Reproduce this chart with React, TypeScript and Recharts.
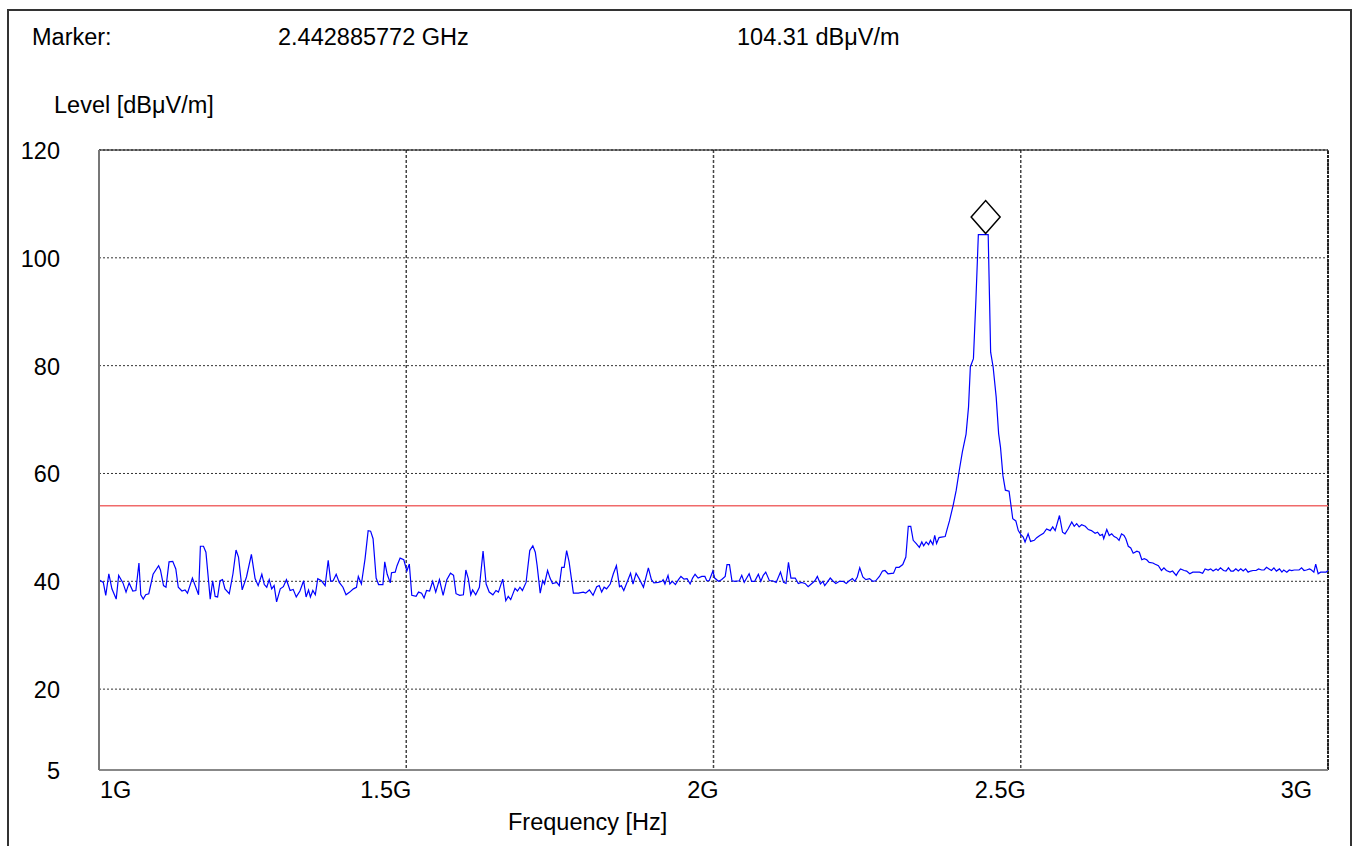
import React from "react";
import { LineChart, Line, XAxis, YAxis, CartesianGrid, ReferenceLine, ReferenceDot } from "recharts";

// sweep frequency points (MHz)
const freqMHz = [
    1000, 1007, 1011, 1016, 1021, 1028, 1032, 1039, 1044, 1049,
    1055, 1060, 1065, 1068, 1072, 1076, 1081, 1088, 1097, 1100,
    1105, 1109, 1114, 1120, 1125, 1129, 1135, 1140, 1144, 1152,
    1162, 1165, 1170, 1174, 1181, 1185, 1189, 1193, 1197, 1201,
    1205, 1212, 1218, 1223, 1227, 1233, 1240, 1248, 1254, 1259,
    1265, 1269, 1273, 1277, 1281, 1285, 1289, 1295, 1300, 1305,
    1311, 1316, 1321, 1327, 1333, 1337, 1341, 1344, 1348, 1352,
    1356, 1362, 1368, 1373, 1377, 1381, 1386, 1391, 1397, 1402,
    1408, 1414, 1419, 1422, 1427, 1433, 1438, 1442, 1446, 1451,
    1455, 1462, 1465, 1469, 1474, 1476, 1482, 1485, 1490, 1496,
    1501, 1505, 1509, 1516, 1520, 1525, 1529, 1533, 1538, 1543,
    1548, 1554, 1560, 1566, 1572, 1577, 1581, 1587, 1593, 1597,
    1601, 1605, 1608, 1613, 1619, 1625, 1630, 1635, 1641, 1646,
    1650, 1657, 1662, 1666, 1670, 1677, 1681, 1685, 1689, 1695,
    1701, 1706, 1710, 1713, 1718, 1722, 1725, 1730, 1734, 1738,
    1745, 1749, 1753, 1757, 1761, 1765, 1772, 1780, 1788, 1792,
    1798, 1804, 1810, 1814, 1818, 1822, 1826, 1832, 1837, 1842,
    1847, 1850, 1854, 1860, 1865, 1869, 1874, 1879, 1886, 1894,
    1899, 1903, 1910, 1916, 1918, 1921, 1926, 1929, 1933, 1938,
    1943, 1947, 1952, 1957, 1962, 1966, 1970, 1975, 1981, 1986,
    1989, 1993, 1999, 2002, 2008, 2013, 2019, 2022, 2026, 2030,
    2035, 2042, 2046, 2050, 2054, 2058, 2062, 2067, 2073, 2077,
    2081, 2085, 2091, 2096, 2102, 2109, 2114, 2118, 2122, 2126,
    2133, 2138, 2143, 2149, 2154, 2160, 2165, 2169, 2174, 2178,
    2181, 2185, 2190, 2194, 2199, 2205, 2211, 2216, 2221, 2226,
    2230, 2234, 2238, 2243, 2248, 2254, 2259, 2264, 2270, 2275,
    2279, 2284, 2293, 2297, 2302, 2308, 2313, 2317, 2321, 2325,
    2330, 2335, 2339, 2342, 2346, 2350, 2353, 2357, 2360, 2363,
    2367, 2371, 2377, 2380, 2384, 2390, 2395, 2400, 2405, 2411,
    2415, 2418, 2423, 2427, 2431, 2439, 2442.9, 2447, 2451, 2455,
    2460, 2464, 2467, 2471, 2475, 2481, 2487, 2492, 2496, 2500,
    2504, 2507, 2512, 2516, 2522, 2526, 2531, 2537, 2542, 2548,
    2552, 2556, 2563, 2568, 2572, 2577, 2583, 2587, 2591, 2595,
    2599, 2605, 2610, 2615, 2621, 2625, 2629, 2633, 2635, 2640,
    2644, 2648, 2652, 2656, 2660, 2664, 2668, 2671, 2675, 2679,
    2683, 2689, 2693, 2697, 2701, 2705, 2709, 2715, 2718, 2724,
    2729, 2733, 2737, 2743, 2747, 2753, 2756, 2760, 2766, 2770,
    2775, 2780, 2785, 2791, 2796, 2800, 2805, 2809, 2813, 2818,
    2821, 2825, 2830, 2834, 2838, 2842, 2846, 2850, 2854, 2858,
    2862, 2866, 2870, 2874, 2878, 2883, 2887, 2892, 2896, 2900,
    2904, 2908, 2912, 2916, 2921, 2925, 2928, 2933, 2937, 2941,
    2945, 2949, 2953, 2957, 2961, 2965, 2970, 2973, 2977, 2980,
    2984, 2988, 2992, 2997, 3000,
];

// measured level, dBuV/m
const levelDbuv = [
    40.3, 39.8, 37.4, 41.4, 38.6, 36.7, 41.1, 39.7, 38.0, 39.7,
    38.2, 38.3, 43.4, 37.5, 36.7, 37.5, 37.7, 41.3, 42.9, 42.1,
    39.2, 38.9, 43.6, 43.7, 42.3, 38.9, 38.2, 38.4, 37.8, 40.6,
    37.5, 46.5, 46.5, 45.4, 36.7, 40.1, 37.2, 37.1, 40.1, 40.3,
    38.6, 37.7, 41.4, 45.8, 44.5, 38.4, 40.8, 45.0, 40.5, 39.2,
    41.3, 39.4, 38.9, 40.3, 38.6, 39.2, 36.2, 38.6, 39.0, 40.3,
    38.3, 38.5, 37.1, 38.2, 40.1, 37.1, 38.4, 37.1, 38.3, 37.5,
    40.5, 40.1, 39.2, 43.9, 40.0, 40.1, 41.3, 39.8, 38.9, 37.5,
    38.0, 38.6, 38.9, 40.9, 39.5, 44.2, 49.4, 49.3, 47.9, 40.6,
    39.4, 39.4, 43.6, 41.3, 39.7, 41.6, 41.7, 42.9, 44.3, 44.0,
    41.9, 43.2, 37.4, 37.2, 38.0, 37.8, 36.9, 38.3, 38.2, 40.0,
    38.0, 40.3, 37.4, 40.3, 41.5, 41.1, 37.7, 37.4, 37.5, 42.1,
    40.5, 37.5, 38.4, 37.5, 38.9, 45.6, 39.5, 38.0, 37.5, 38.3,
    38.0, 40.4, 36.4, 37.2, 36.6, 38.7, 38.2, 38.9, 38.3, 39.8,
    45.7, 46.6, 45.4, 42.9, 37.8, 40.1, 39.5, 42.0, 40.6, 39.6,
    39.8, 39.2, 42.6, 42.6, 45.7, 43.6, 37.8, 37.8, 38.0, 37.8,
    38.4, 37.4, 39.0, 39.2, 38.0, 38.9, 38.6, 39.5, 41.4, 42.9,
    39.0, 39.2, 38.3, 40.0, 41.5, 39.5, 41.5, 40.5, 38.9, 42.5,
    40.3, 39.7, 39.8, 40.0, 40.3, 39.5, 41.1, 39.5, 40.0, 39.4,
    40.3, 40.9, 40.4, 40.5, 39.5, 40.6, 41.3, 40.6, 40.9, 40.9,
    40.1, 40.1, 41.9, 40.6, 40.0, 40.3, 40.9, 43.1, 43.1, 40.1,
    40.0, 40.1, 41.1, 39.8, 40.6, 41.4, 40.0, 40.0, 41.3, 40.0,
    41.1, 41.7, 40.1, 40.1, 39.8, 41.7, 39.8, 39.6, 43.5, 40.6,
    40.6, 39.6, 39.8, 39.6, 39.0, 39.6, 40.1, 40.9, 39.5, 40.0,
    39.2, 39.8, 40.6, 40.1, 39.6, 40.0, 40.0, 39.6, 40.1, 40.5,
    40.0, 40.8, 42.5, 40.8, 40.3, 40.5, 40.0, 40.1, 40.9, 41.9,
    42.0, 41.4, 41.5, 42.6, 42.6, 43.1, 44.5, 50.2, 50.2, 47.6,
    47.0, 46.3, 47.3, 46.6, 47.3, 46.8, 47.6, 46.8, 48.5, 47.0,
    48.1, 48.2, 48.3, 49.6, 51.2, 54.1, 56.9, 60.6, 64.0, 67.3,
    72.3, 79.8, 81.3, 92.1, 104.3, 104.3, 104.31, 104.3, 82.5, 79.8,
    74.2, 67.4, 64.9, 59.6, 56.9, 56.7, 51.6, 51.2, 49.4, 48.7,
    48.2, 47.3, 48.8, 47.4, 47.6, 48.1, 48.5, 48.9, 49.7, 49.4,
    50.1, 49.4, 52.2, 49.1, 48.8, 49.7, 51.0, 50.2, 50.7, 50.1,
    50.5, 50.2, 49.6, 49.4, 48.9, 49.1, 48.5, 48.7, 47.9, 49.6,
    48.5, 48.8, 48.3, 48.1, 47.6, 48.8, 48.5, 47.9, 46.5, 46.2,
    45.2, 45.6, 45.4, 44.0, 44.2, 44.0, 43.5, 43.4, 43.2, 42.9,
    42.0, 42.5, 42.0, 41.7, 41.9, 41.1, 41.7, 42.3, 42.0, 41.9,
    41.4, 41.7, 41.7, 41.7, 41.5, 42.3, 42.1, 42.3, 41.9, 42.3,
    42.0, 42.5, 42.0, 41.9, 42.5, 41.9, 41.9, 42.3, 41.9, 42.3,
    41.9, 42.3, 41.7, 41.9, 42.0, 42.0, 42.3, 42.1, 42.1, 42.6,
    42.3, 42.0, 42.5, 41.9, 42.3, 41.7, 42.1, 41.7, 42.1, 42.0,
    42.1, 42.1, 42.1, 42.5, 42.0, 42.1, 42.3, 42.1, 41.7, 43.2,
    41.4, 41.7, 41.7, 41.7, 42.0,
];

const xTicks = [1000, 1500, 2000, 2500, 3000];
const xTickLabels = ["1G", "1.5G", "2G", "2.5G", "3G"];
const yTicks = [5, 20, 40, 60, 80, 100, 120];
const limitLevel = 54;
const markerFreqGHz = 2.442885772;
const markerLevel = 104.31;

const data = freqMHz.map((f, i) => ({ f, level: levelDbuv[i] }));

const FONT = "'Liberation Sans', Arial, sans-serif";
const FS = 23.5;

function XTick(props: any) {
    const { x, y, payload } = props;
    const i = xTicks.indexOf(payload.value);
    const first = i === 0;
    const last = i === xTicks.length - 1;
    const dx = first ? 1 : last ? -16 : 5;
    return (
        <text x={x + dx} y={y + 28} textAnchor={first ? "start" : "end"} fontFamily={FONT} fontSize={FS} fill="#000">
            {xTickLabels[i]}
        </text>
    );
}

function YTick(props: any) {
    const { x, y, payload } = props;
    return (
        <text x={x} y={y + 9} textAnchor="end" fontFamily={FONT} fontSize={FS} fill="#000">
            {payload.value}
        </text>
    );
}

function Diamond(props: any) {
    const { cx, cy } = props;
    const b = cy - 1;
    const pts = `${cx},${b} ${cx + 14.5},${b - 16.5} ${cx},${b - 33} ${cx - 14.5},${b - 16.5}`;
    return <polygon points={pts} fill="#fff" stroke="#000" strokeWidth={1.5} />;
}

export default function App() {
    return (
        <div>
            <div
                style={{
                    position: "fixed",
                    left: 7,
                    top: 9,
                    width: 1345,
                    height: 900,
                    border: "2px solid #333",
                    boxSizing: "border-box",
                    background: "#fff",
                }}
            />
            <div style={{ position: "fixed", left: 0, top: 0 }}>
                <LineChart width={1353} height={846} data={data} margin={{ top: 150, right: 25, bottom: 46, left: 39 }}>
                    <CartesianGrid vertical={false} stroke="#333" strokeDasharray="2 2" />
                    <CartesianGrid horizontal={false} stroke="#444" strokeWidth={1.5} strokeDasharray="3 2" />
                    <XAxis
                        dataKey="f"
                        type="number"
                        domain={[1000, 3000]}
                        ticks={xTicks}
                        height={30}
                        tickSize={0}
                        tickMargin={0}
                        tickLine={false}
                        axisLine={{ stroke: "#888", strokeWidth: 2 }}
                        tick={<XTick />}
                    />
                    <YAxis
                        type="number"
                        domain={[5, 120]}
                        ticks={yTicks}
                        width={60}
                        tickSize={0}
                        tickMargin={39}
                        tickLine={false}
                        axisLine={{ stroke: "#777", strokeWidth: 2 }}
                        tick={<YTick />}
                    />
                    <ReferenceLine y={120} stroke="#000" strokeWidth={1} />
                    <ReferenceLine x={3000} stroke="#222" strokeWidth={2} strokeDasharray="3 1" />
                    <ReferenceLine y={limitLevel} stroke="#f06a6a" strokeWidth={1.5} />
                    <Line
                        type="linear"
                        dataKey="level"
                        stroke="#0000ff"
                        strokeWidth={1.2}
                        dot={false}
                        isAnimationActive={false}
                    />
                    <ReferenceDot x={markerFreqGHz * 1000} y={markerLevel} shape={<Diamond />} />
                </LineChart>
            </div>
            <svg
                width={1353}
                height={846}
                style={{ position: "fixed", left: 0, top: 0, pointerEvents: "none" }}
                fontFamily={FONT}
                fontSize={FS}
            >
                <text x={32} y={45}>Marker:</text>
                <text x={278} y={45}>{markerFreqGHz.toFixed(9)} GHz</text>
                <text x={737} y={45}>{markerLevel.toFixed(2)} dBμV/m</text>
                <text x={54} y={113}>Level [dBμV/m]</text>
                <text x={508} y={830}>Frequency [Hz]</text>
            </svg>
        </div>
    );
}
